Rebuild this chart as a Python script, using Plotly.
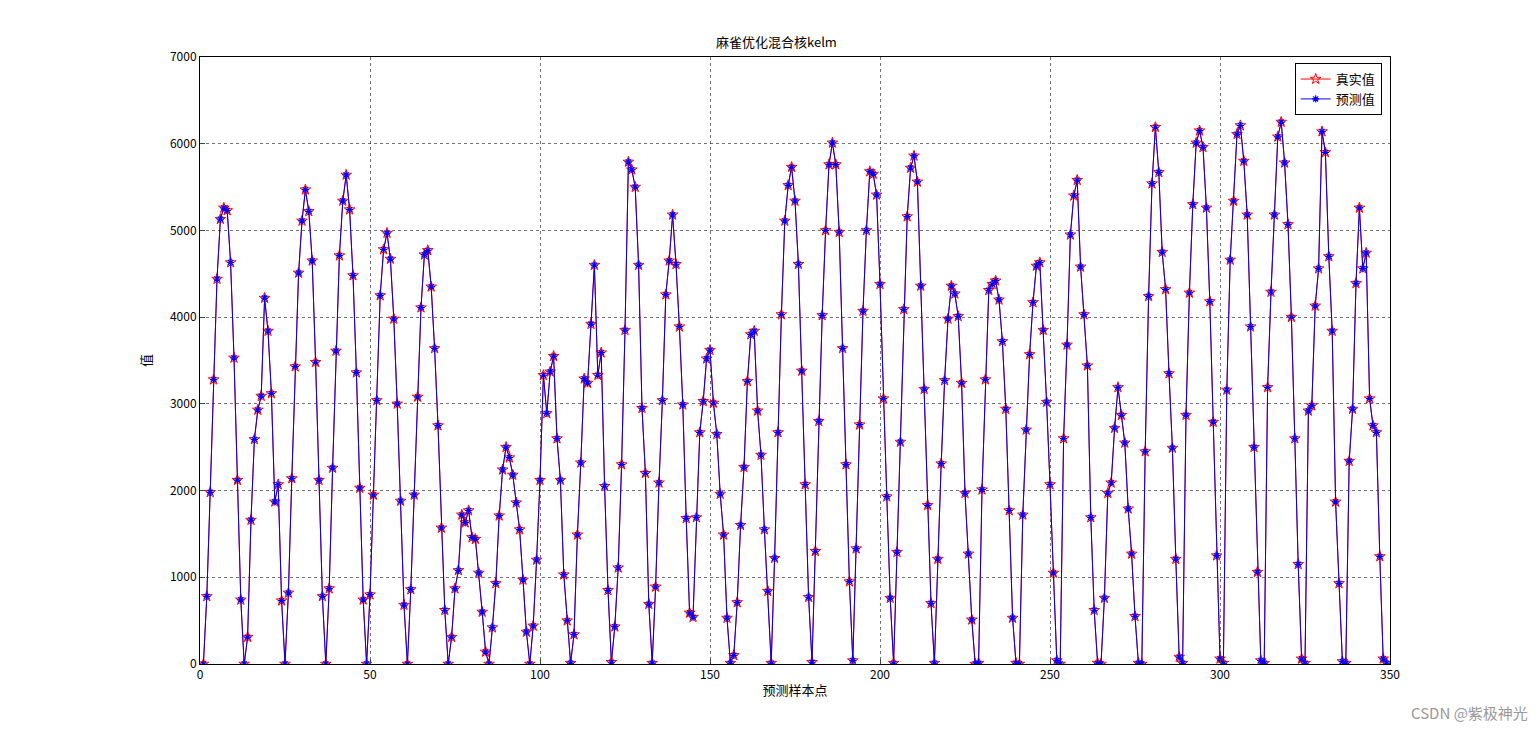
import plotly.graph_objects as go

true_vals = [0,780,1980,3280,4440,5130,5260,5230,4630,3530,2120,740,0,310,1660,2590,2930,3090,4220,3840,
3120,1870,2070,730,0,820,2140,3430,4510,5110,5470,5220,4650,3480,2120,780,0,870,2260,3610,
4710,5340,5640,5240,4480,3360,2030,740,0,800,1950,3040,4250,4780,4970,4670,3980,3000,1880,680,
0,860,1950,3080,4110,4720,4770,4350,3640,2750,1570,620,0,310,870,1080,1720,1630,1770,1460,
1440,1050,600,140,0,420,930,1710,2240,2500,2380,2180,1860,1550,970,370,0,440,1200,2120,
3330,2890,3370,3550,2600,2120,1030,500,10,340,1490,2320,3290,3240,3920,4600,3330,3590,2050,850,
20,430,1110,2300,3850,5790,5700,5500,4600,2950,2200,690,10,890,2090,3040,4260,4650,5180,4610,
3890,2990,1680,590,540,1690,2670,3030,3520,3620,3010,2650,1960,1490,530,10,100,710,1600,2270,
3260,3800,3840,2920,2410,1550,840,10,1220,2670,4030,5110,5520,5730,5340,4610,3380,2070,770,20,
1300,2800,4020,5000,5760,6010,5760,4980,3640,2300,950,40,1330,2760,4070,5000,5680,5650,5410,4380,
3060,1930,760,10,1290,2560,4090,5160,5720,5860,5560,4360,3170,1830,700,10,1210,2310,3270,3980,
4360,4270,4010,3240,1970,1270,510,0,10,2010,3280,4310,4380,4420,4200,3720,2940,1770,530,10,
0,1720,2700,3570,4170,4590,4630,3850,3020,2070,1050,40,0,2600,3680,4950,5400,5580,4580,4030,
3440,1690,620,10,0,760,1970,2090,2720,3190,2870,2550,1790,1270,550,10,0,2450,4240,5540,
6190,5670,4750,4320,3350,2490,1210,80,10,2870,4280,5300,6010,6150,5960,5260,4180,2790,1250,60,
10,3160,4660,5340,6110,6210,5800,5180,3890,2500,1060,40,10,3190,4290,5180,6080,6250,5780,5070,
4000,2600,1150,60,10,2920,2980,4130,4560,6140,5900,4700,3840,1870,930,30,10,2340,2940,4390,
5260,4560,4740,3060,2750,2670,1240,60,10]
pred_vals = list(true_vals)
x_idx = list(range(1, len(true_vals) + 1))

fig = go.Figure()
fig.add_trace(go.Scatter(x=x_idx, y=true_vals, mode="lines+markers", name="真实值",
    line=dict(color="red", width=1), marker=dict(symbol="star-open", size=8, color="red", line=dict(width=1))))
fig.add_trace(go.Scatter(x=x_idx, y=pred_vals, mode="lines+markers", name="预测值",
    line=dict(color="blue", width=1), marker=dict(symbol="asterisk-open", size=6, color="blue", line=dict(width=1.2, color="blue"))))

ax = dict(showline=True, linecolor="black", mirror=True, ticks="inside", ticklen=5,
          showgrid=True, gridcolor="rgba(0,0,0,0.55)", griddash="dot", gridwidth=1, zeroline=False,
          tickfont=dict(size=12, color="black"))
fig.update_layout(
    width=1537, height=746, paper_bgcolor="white", plot_bgcolor="white",
    margin=dict(l=192, r=155, t=49, b=90),
    font=dict(family="Noto Sans CJK SC, sans-serif", color="black"),
    title=dict(text="麻雀优化混合核kelm", x=0.5, xanchor="center", y=0.96, font=dict(size=13)),
    xaxis=dict(range=[0, 350], dtick=50, title=dict(text="预测样本点", font=dict(size=13), standoff=4), **ax),
    yaxis=dict(range=[0, 7000], dtick=1000, title=dict(text="值", font=dict(size=13)), **ax),
    legend=dict(x=0.993, y=0.99, xanchor="right", yanchor="top", bgcolor="white",
                bordercolor="black", borderwidth=1, font=dict(size=13)),
    annotations=[dict(text="CSDN @紫极神光", xref="paper", yref="paper", x=1.118, y=-0.1,
                      showarrow=False, font=dict(size=15, color="#999"), xanchor="right")],
)
fig.write_html("out.html")
